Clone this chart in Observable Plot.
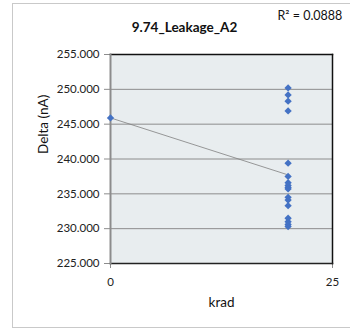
<!DOCTYPE html>
<html>
<head>
<meta charset="utf-8">
<script src="https://cdn.jsdelivr.net/npm/d3@7"></script>
<script src="https://cdn.jsdelivr.net/npm/@observablehq/plot@0.6"></script>
<style>
  html, body { margin: 0; padding: 0; background: #fff; overflow: hidden; }
  #wrap { position: relative; width: 350px; height: 333px; overflow: hidden; }
  #frame { position: absolute; left: 12px; top: 3px; width: 350px; height: 325px; border: 1.5px solid #c9c9c9; box-sizing: border-box; }
  #chart { position: absolute; left: 0; top: 0; }
</style>
</head>
<body>
<div id="wrap"><div id="frame"></div><div id="chart"></div></div>
<script>
const title = "9.74_Leakage_A2";
const r2Label = "R\u00b2 = 0.0888";
const xLabel = "krad";
const yLabel = "Delta (nA)";
const krad = [0, 20, 20, 20, 20, 20, 20, 20, 20, 20, 20, 20, 20, 20, 20, 20, 20, 20];
const delta = [245.9, 250.2, 249.2, 248.3, 246.9, 239.4, 237.5, 236.6, 236.2, 235.9, 235.7, 234.5, 234.1, 233.3, 231.5, 231.0, 230.6, 230.3];
const yTicks = [225, 230, 235, 240, 245, 250, 255];
const gridTicks = [230, 235, 240, 245, 250];
const xTicks = [0, 25];

const data = krad.map((k, i) => ({k, d: delta[i]}));
const font = "Lato, 'Liberation Sans', sans-serif";

const chart = Plot.plot({
  width: 350,
  height: 333,
  marginLeft: 110,
  marginRight: 18,
  marginTop: 54,
  marginBottom: 70,
  style: {fontFamily: font, fontSize: "11px", color: "#222", background: "transparent"},
  x: {domain: [0, 25], ticks: xTicks, label: null},
  y: {domain: [225, 255], ticks: yTicks, tickFormat: d3.format(".3f"), label: null},
  marks: [
    Plot.frame({fill: "#e8edef", stroke: null}),
    Plot.gridY(gridTicks, {stroke: "#8c8c8c", strokeOpacity: 1, strokeWidth: 1}),
    Plot.axisY({ticks: yTicks, tickFormat: d3.format(".3f"), tickSize: 6, tickPadding: 5, stroke: "#8c8c8c", fontSize: 11.5}),
    Plot.axisX({ticks: xTicks, tickSize: 5, tickPadding: 9, stroke: "#8c8c8c", fontSize: 11.5}),
    Plot.frame({anchor: "top", stroke: "#111", strokeWidth: 1.5}),
    Plot.frame({anchor: "right", stroke: "#111", strokeWidth: 1.5}),
    Plot.frame({anchor: "bottom", stroke: "#222", strokeWidth: 1.5}),
    Plot.frame({anchor: "left", stroke: "#8c8c8c", strokeWidth: 2}),
    Plot.linearRegressionY(data, {x: "k", y: "d", ci: 0, stroke: "#808080", strokeWidth: 0.8}),
    Plot.dot(data, {x: "k", y: "d", symbol: "diamond2", r: 3.3, fill: "#4472c4", stroke: "none"}),
    Plot.text([title], {frameAnchor: "top", lineAnchor: "middle", dx: -37, dy: -27, fontSize: 13.5, fontWeight: "bold", fill: "#111"}),
    Plot.text([r2Label], {frameAnchor: "top-right", lineAnchor: "middle", dx: -55, dy: -39, textAnchor: "start", fontSize: 12.5, fill: "#111"}),
    Plot.text([xLabel], {frameAnchor: "bottom", lineAnchor: "middle", dy: 39, fontSize: 13.5, fill: "#111"}),
    Plot.text([yLabel], {frameAnchor: "left", dx: -67, dy: -5, rotate: -90, fontSize: 13.5, fill: "#111"})
  ]
});
document.getElementById("chart").appendChild(chart);
</script>
</body>
</html>
